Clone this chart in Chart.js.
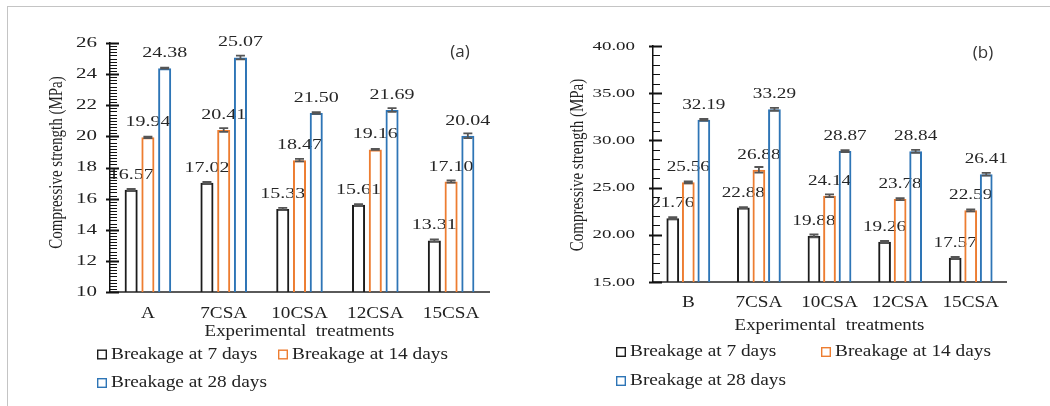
<!DOCTYPE html>
<html><head><meta charset="utf-8">
<script src="https://cdn.jsdelivr.net/npm/chart.js@4.4.1/dist/chart.umd.min.js"></script>
<style>
html,body{margin:0;padding:0;background:#fff;}
#wrap{position:relative;width:1050px;height:406px;overflow:hidden;background:#fff;}
#frame{position:absolute;left:7px;top:6px;width:1100px;height:450px;border-top:1px solid #c4c4c4;border-left:1px solid #c4c4c4;}
#pa{position:absolute;left:0;top:0;}
#pb{position:absolute;left:520px;top:0;}
</style></head><body>
<div id="wrap"><div id="frame"></div>
<canvas id="pa" width="520" height="406" style="width:520px;height:406px"></canvas>
<canvas id="pb" width="530" height="406" style="width:530px;height:406px"></canvas></div>
<script>
// ---------- data ----------
const categoriesA = ['A', '7CSA', '10CSA', '12CSA', '15CSA'];
const categoriesB = ['B', '7CSA', '10CSA', '12CSA', '15CSA'];
const seriesNames = ['Breakage at 7 days', 'Breakage at 14 days', 'Breakage at 28 days'];
const a7  = [16.57, 17.02, 15.33, 15.61, 13.31];
const a14 = [19.94, 20.41, 18.47, 19.16, 17.10];
const a28 = [24.38, 25.07, 21.50, 21.69, 20.04];
const b7  = [21.76, 22.88, 19.88, 19.26, 17.57];
const b14 = [25.56, 26.88, 24.14, 23.78, 22.59];
const b28 = [32.19, 33.29, 28.87, 28.84, 26.41];
const errA7  = [0.05, 0.05, 0.07, 0.03, 0.07];
const errA14 = [0.05, 0.12, 0.08, 0.03, 0.07];
const errA28 = [0.03, 0.12, 0.06, 0.12, 0.15];
const errB7  = [0.10, 0.05, 0.15, 0.10, 0.10];
const errB14 = [0.10, 0.30, 0.15, 0.10, 0.10];
const errB28 = [0.10, 0.15, 0.10, 0.15, 0.15];
const yTicksA = [10, 12, 14, 16, 18, 20, 22, 24, 26];
const yTicksB = [15, 20, 25, 30, 35, 40];
const minorStepA = 0.2;
const minorStepB = 1;
const yTitle = 'Compressive strength (MPa)';
const xTitle = 'Experimental  treatments';

// ---------- styles ----------
const colors = ['#1c1c1c', '#ED7D31', '#2E75B6'];
const SERIF = '"Liberation Serif", "Times New Roman", serif';
const SANS = '"Open Sans", "Noto Sans", sans-serif';
const TXT = '#222222';

function stretchText(ctx, text, x, y, sx, font, color, align, baseline, rot) {
  ctx.save();
  ctx.translate(x, y);
  ctx.scale(sx, 1);
  if (rot) ctx.rotate(rot);
  ctx.font = font; ctx.fillStyle = color;
  ctx.textAlign = align; ctx.textBaseline = baseline;
  ctx.fillText(text, 0, 0);
  ctx.restore();
}
function stretchedLabels(scale, area) {
  const t = scale.options.ticks; if (!t.display) return;
  const sx = t.stretch || 1, ctx = scale.ctx;
  for (const it of scale.getLabelItems(area)) {
    const o = it.options, tr = o.translation;
    ctx.save();
    ctx.translate(tr[0], tr[1]);
    if (o.rotation) ctx.rotate(o.rotation);
    ctx.scale(sx, 1);
    ctx.font = it.font.string; ctx.fillStyle = o.color;
    ctx.textAlign = o.textAlign; ctx.textBaseline = o.textBaseline;
    ctx.fillText(String(it.label), 0, it.textOffset);
    ctx.restore();
  }
}
function stretchedTitle(scale) {
  const t = scale.options.title; if (!t.display) return;
  const f = t.font;
  const font = f.size + 'px ' + f.family;
  let x, y, rot = 0;
  if (scale.isHorizontal()) { x = (scale.left + scale.right) / 2 + (t.shift || 0); y = scale.top + t.dist; }
  else { x = scale.left + t.dist; y = (scale.top + scale.bottom) / 2 + (t.shift || 0); rot = -Math.PI / 2; }
  stretchText(scale.ctx, t.text, x, y, t.stretch || 1, font, t.color, 'center', 'middle', rot);
}
class SLinear extends Chart.LinearScale {
  drawLabels(a) { stretchedLabels(this, a); }
  drawTitle() { stretchedTitle(this); }
}
SLinear.id = 'slinear'; SLinear.defaults = Chart.LinearScale.defaults;
class SCategory extends Chart.CategoryScale {
  drawLabels(a) { stretchedLabels(this, a); }
  drawTitle() { stretchedTitle(this); }
}
SCategory.id = 'scategory'; SCategory.defaults = Chart.CategoryScale.defaults;
Chart.register(SLinear, SCategory);

// ---------- plugins ----------
const valueLabelPlugin = {
  id: 'valueLabels',
  beforeDatasetsDraw(chart, args, o) {
    const ctx = chart.ctx;
    chart.data.datasets.forEach((ds, i) => {
      chart.getDatasetMeta(i).data.forEach((bar, j) => {
        stretchText(ctx, ds.data[j].toFixed(2), bar.x, bar.y - o.gap, o.stretch,
          o.size + 'px ' + SERIF, '#262626', 'center', 'alphabetic');
      });
    });
  }
};
const errorBarPlugin = {
  id: 'errorBars',
  afterDatasetsDraw(chart) {
    const ctx = chart.ctx, s = chart.scales.y;
    ctx.save(); ctx.strokeStyle = '#555'; ctx.lineWidth = 1.8;
    chart.data.datasets.forEach((ds, i) => {
      chart.getDatasetMeta(i).data.forEach((bar, j) => {
        const v = ds.data[j], e = ds.errors[j];
        const y1 = s.getPixelForValue(v + e), y2 = s.getPixelForValue(v - e);
        const w = 4.5;
        ctx.beginPath();
        ctx.moveTo(bar.x, y1); ctx.lineTo(bar.x, y2);
        ctx.moveTo(bar.x - w, y1); ctx.lineTo(bar.x + w, y1);
        ctx.moveTo(bar.x - w, y2); ctx.lineTo(bar.x + w, y2);
        ctx.stroke();
      });
    });
    ctx.restore();
  }
};
// legend boxes + panel tag + y-axis tick marks (major crossing, minor inside)
const decorPlugin = {
  id: 'boxLegend',
  afterDraw(chart, args, o) {
    const ctx = chart.ctx;
    const s = chart.scales.y, ax = Math.round(chart.chartArea.left);
    const majors = o.majors, step = o.minorStep;
    const lo = majors[0], hi = majors[majors.length - 1];
    ctx.save();
    ctx.fillStyle = '#111';
    const n = Math.round((hi - lo) / step);
    for (let i = 0; i <= n; i++) {
      const y = Math.round(s.getPixelForValue(lo + i * step));
      ctx.fillRect(ax, y, 7, 1);
    }
    for (const v of majors) {
      const y = Math.round(s.getPixelForValue(v));
      ctx.fillRect(ax - 4, y - 0.5, 13, 2);
    }
    ctx.restore();
    const pos = [[o.x0, o.rows[0]], [o.col2, o.rows[0]], [o.x0, o.rows[1]]];
    chart.data.datasets.forEach((ds, i) => {
      const [x, y] = pos[i];
      ctx.save();
      ctx.lineWidth = 1.4; ctx.strokeStyle = ds.borderColor; ctx.fillStyle = '#fff';
      ctx.fillRect(x, y - 5, 10, 10); ctx.strokeRect(x + 0.7, y - 4.3, 8.6, 8.6);
      ctx.restore();
      stretchText(ctx, ds.label, x + 14, y, o.stretch, o.size + 'px ' + SERIF, TXT, 'left', 'middle');
    });
    stretchText(ctx, o.tag, o.tagX, o.tagY, 1, '17px ' + SANS, '#333', 'center', 'middle');
  }
};

function makeChart(id, cats, series, errs, yTicks, minor, L) {
  L.legend.majors = yTicks;
  L.legend.minorStep = minor;
  return new Chart(document.getElementById(id), {
    type: 'bar',
    data: {
      labels: cats,
      datasets: series.map((d, i) => ({
        label: seriesNames[i], data: d, errors: errs[i],
        backgroundColor: 'rgba(255,255,255,0)', borderColor: colors[i], borderWidth: 2,
        categoryPercentage: L.cp, barPercentage: L.bp
      }))
    },
    options: {
      responsive: false, animation: false,
      layout: { padding: { left: 0, top: L.padTop, right: L.padRight, bottom: 0 } },
      plugins: {
        legend: { display: false }, tooltip: { enabled: false },
        valueLabels: { gap: 11, size: L.valSize, stretch: L.valStretch },
        boxLegend: L.legend
      },
      scales: {
        x: {
          type: 'scategory',
          grid: { display: false, drawTicks: false },
          border: { display: true, color: '#5a5a5a', width: 2 },
          ticks: { padding: L.xPad, color: TXT, stretch: 1.2, font: { family: SERIF, size: 16 } },
          title: { display: true, text: xTitle, color: TXT, dist: L.xDist, stretch: 1.18, font: { family: SERIF, size: 16 } },
          afterFit: s => { s.height = L.xHeight; }
        },
        y: {
          type: 'slinear',
          min: yTicks[0], max: yTicks[yTicks.length - 1],
          afterBuildTicks: s => { s.ticks = yTicks.map(v => ({ value: v })); },
          grid: { display: false, drawTicks: false },
          border: { display: true, color: '#111', width: 1.5 },
          ticks: { padding: L.yPad, color: TXT, stretch: 1.4, font: { family: SERIF, size: L.yTickSize },
                   callback: v => L.dec ? Number(v).toFixed(L.dec) : String(v) },
          title: { display: true, text: yTitle, color: TXT, dist: L.yDist, shift: L.yShift, stretch: 1.3, font: { family: SERIF, size: 15 } },
          afterFit: s => { s.width = L.yWidth; }
        }
      }
    },
    plugins: [valueLabelPlugin, errorBarPlugin, decorPlugin]
  });
}

makeChart('pa', categoriesA, [a7, a14, a28], [errA7, errA14, errA28], yTicksA, minorStepA, {
  cp: 0.663, bp: 0.78, padTop: 43, padRight: 31, yWidth: 110, xHeight: 114,
  xPad: 12, yPad: 13, yTickSize: 15, dec: 0, xDist: 40, yDist: 57, yShift: -5,
  valSize: 14.5, valStretch: 1.38,
  legend: { x0: 97, col2: 278, rows: [354.5, 383], size: 16.5, stretch: 1.17, tag: '(a)', tagX: 460, tagY: 52 }
});
makeChart('pb', categoriesB, [b7, b14, b28], [errB7, errB14, errB28], yTicksB, minorStepB, {
  cp: 0.66, bp: 0.82, padTop: 46, padRight: 44, yWidth: 133, xHeight: 124,
  xPad: 11, yPad: 18, yTickSize: 13.5, dec: 2, xDist: 44, yDist: 58, yShift: 1,
  valSize: 15, valStretch: 1.28,
  legend: { x0: 96, col2: 301, rows: [352, 381], size: 16.5, stretch: 1.17, tag: '(b)', tagX: 463, tagY: 53 }
});
</script>
</body></html>
